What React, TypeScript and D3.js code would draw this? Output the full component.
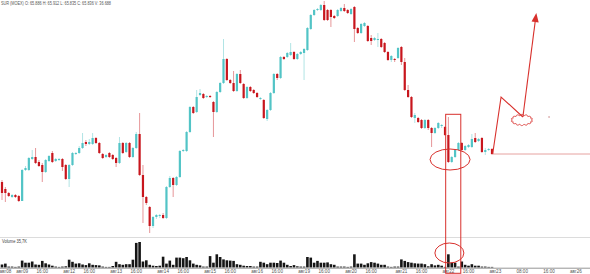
import React from "react";
import * as d3 from "d3";

// ---- data ----
const openP = [64.88,64.81,64.77,64.73,64.75,64.74,64.69,65.00,65.00,65.11,65.13,65.08,65.05,64.98,65.09,65.17,65.09,65.10,65.11,65.05,64.91,65.05,65.16,65.17,65.22,65.28,65.26,65.26,65.32,65.27,65.16,65.13,65.17,65.15,65.12,65.07,65.27,65.18,65.27,65.13,65.22,65.36,64.95,64.73,64.63,64.44,64.53,64.54,64.55,64.52,64.83,64.92,64.85,64.93,65.19,65.19,65.38,65.63,65.58,65.75,65.76,65.73,65.74,65.68,65.58,65.78,65.87,66.11,65.90,65.87,65.79,65.96,65.86,65.72,65.83,65.80,65.77,65.71,65.70,65.51,65.60,65.77,65.96,65.92,66.13,66.13,66.15,66.18,66.11,66.16,66.17,66.20,66.41,66.55,66.60,66.60,66.65,66.60,66.60,66.54,66.54,66.59,66.62,66.60,66.56,66.63,66.42,66.37,66.44,66.44,66.32,66.30,66.30,66.31,66.27,66.18,66.10,66.11,66.12,66.23,66.08,65.80,65.73,65.52,65.52,65.50,65.42,65.50,65.42,65.37,65.42,65.44,65.43,65.35,65.08,65.13,65.20,65.27,65.20,65.23,65.23,65.32,65.29,65.32,65.18,65.20,65.21];
const highP = [64.90,64.83,64.78,64.76,64.76,64.75,65.01,65.04,65.13,65.20,65.22,65.10,65.07,65.11,65.15,65.19,65.12,65.12,65.12,65.06,65.06,65.18,65.18,65.24,65.37,65.30,65.31,65.37,65.33,65.28,65.17,65.16,65.18,65.16,65.13,65.33,65.28,65.28,65.28,65.23,65.38,65.57,65.05,64.74,64.64,64.54,64.56,64.56,64.57,64.84,64.94,64.93,64.94,65.20,65.21,65.39,65.64,65.64,65.80,65.81,65.77,65.75,65.75,65.69,65.79,65.88,66.31,66.12,65.91,65.99,65.97,66.00,65.87,65.84,65.84,65.81,65.78,65.73,65.71,65.61,65.78,65.97,65.97,66.14,66.14,66.18,66.27,66.19,66.17,66.19,66.22,66.43,66.56,66.61,66.62,66.66,66.69,66.61,66.61,66.55,66.61,66.63,66.66,66.61,66.62,66.64,66.43,66.47,66.48,66.45,66.35,66.33,66.37,66.32,66.28,66.19,66.15,66.12,66.23,66.24,66.12,65.85,65.74,65.57,65.53,65.51,65.51,65.51,65.43,65.43,65.48,65.46,65.44,65.53,65.14,65.21,65.28,65.28,65.25,65.26,65.36,65.37,65.32,65.33,65.22,65.22,65.22];
const lowP = [64.70,64.68,64.73,64.72,64.72,64.68,64.69,64.99,64.99,65.10,65.06,65.03,64.88,64.97,65.08,65.07,65.08,65.09,64.99,64.90,64.83,65.04,65.15,65.16,65.21,65.24,65.25,65.25,65.26,65.16,65.11,65.12,65.12,65.10,65.03,65.06,65.16,65.17,65.12,65.12,65.21,64.94,64.47,64.65,64.37,64.42,64.51,64.52,64.51,64.51,64.82,64.73,64.84,64.92,65.18,65.18,65.37,65.56,65.57,65.74,65.71,65.72,65.72,65.33,65.57,65.77,65.86,65.89,65.86,65.78,65.78,65.86,65.71,65.71,65.78,65.76,65.72,65.70,65.51,65.49,65.59,65.76,65.90,65.91,66.10,66.12,66.14,66.10,66.10,66.15,65.90,66.19,66.40,66.54,66.59,66.59,66.49,66.49,66.43,66.51,66.53,66.58,66.58,66.56,66.55,66.28,66.36,66.36,66.43,66.28,66.25,66.29,66.23,66.22,66.17,66.09,66.08,66.08,66.11,66.05,65.79,65.72,65.52,65.47,65.47,65.41,65.41,65.40,65.23,65.36,65.41,65.42,65.34,65.07,65.07,65.12,65.19,65.19,65.19,65.22,65.22,65.27,65.28,65.17,65.15,65.19,65.15];
const closeP = [64.77,64.77,64.74,64.75,64.73,64.69,65.00,65.02,65.12,65.13,65.07,65.04,64.98,65.10,65.14,65.08,65.11,65.11,65.03,64.91,65.05,65.17,65.17,65.22,65.27,65.26,65.28,65.32,65.27,65.17,65.12,65.15,65.13,65.11,65.07,65.27,65.17,65.27,65.13,65.22,65.36,64.95,64.73,64.67,64.44,64.53,64.55,64.55,64.52,64.83,64.92,64.85,64.93,65.19,65.20,65.38,65.63,65.57,65.73,65.77,65.72,65.74,65.73,65.58,65.78,65.87,66.11,65.90,65.87,65.79,65.96,65.87,65.72,65.83,65.79,65.77,65.73,65.72,65.52,65.60,65.77,65.96,65.92,66.13,66.11,66.17,66.18,66.11,66.16,66.18,66.21,66.42,66.55,66.60,66.61,66.65,66.50,66.50,66.53,66.52,66.60,66.62,66.59,66.57,66.61,66.41,66.37,66.46,66.47,66.29,66.29,66.32,66.31,66.23,66.18,66.10,66.14,66.10,66.22,66.08,65.80,65.73,65.53,65.55,65.48,65.42,65.50,65.42,65.37,65.42,65.47,65.45,65.35,65.08,65.13,65.20,65.27,65.20,65.24,65.25,65.31,65.28,65.31,65.18,65.20,65.21,65.16];
const volumeK = [10,13,3,3,2,3,23,16,16,20,10,9,22,14,10,6,3,2,3,4,26,19,13,14,10,8,14,9,8,7,3,2,2,5,19,11,9,11,11,26,82,85,20,24,9,6,5,6,36,13,23,9,33,33,31,35,24,13,9,7,3,3,38,16,44,35,27,24,23,22,11,9,6,5,5,3,3,19,16,11,16,16,15,23,16,9,5,8,4,3,3,35,33,16,22,16,16,17,11,9,3,3,3,2,3,44,13,13,9,14,18,16,13,9,9,3,2,3,3,27,22,18,16,14,13,13,11,4,11,7,9,6,2,44,16,16,3,20,9,6,11,6,6,3,3,2,2];

const tickLabels = ["авг08","авг09","16:00","авг12","16:00","авг13","16:00","авг14","16:00","авг15","16:00","авг16","16:00","авг19","16:00","авг20","16:00","авг21","16:00","авг22","16:00","авг23","08:00","16:00","авг26"];
const tickIndex = [1,6,12,20,26,34,40,48,54,62,68,76,82,90,96,104,110,119,125,133,139,147,155,163,171];

const headerText = "SUR (MOEX) O: 65.886  H: 65.912  L: 65.835  C: 65.836  V: 36.688";
const volumeText = "Volume 35,7K";

// annotation path in (candle index, price) space
const arrowIdx = [146.2, 148.7, 155.2, 159.2];
const arrowPrice = [65.16, 65.73, 65.53, 66.57];
const levelPrice = 65.16;

const W = 590, H = 274;
const UP = "#52c4c6";
const DOWN = "#c8161d";
const ANN = "#d8302c";

export default function App() {
  const x = d3.scaleLinear().domain([0, 146]).range([2, 492]);
  const y = d3.scaleLinear().domain([64.40, 66.70]).range([230, 0]);
  const yv = d3.scaleLinear().domain([0, 90]).range([267.5, 240.5]);
  const bw = 2.2;
  const vw = 2.6;

  const candles = openP.map((o, i) => {
    const c = closeP[i];
    const up = c >= o;
    const col = up ? UP : DOWN;
    const cx = x(i);
    const top = y(Math.max(o, c));
    const bot = y(Math.min(o, c));
    return (
      <g key={i}>
        <rect x={cx - 0.5} y={y(highP[i])} width={1} height={Math.max(1, y(lowP[i]) - y(highP[i]))} fill={col} opacity={0.45} />
        <rect x={cx - bw / 2} y={top} width={bw} height={Math.max(1, bot - top)} fill={col} />
      </g>
    );
  });

  const vols = volumeK.map((v, i) => (
    <rect key={i} x={x(i) - vw / 2} y={yv(v)} width={vw} height={yv(0) - yv(v)} fill="#161616" />
  ));

  // annotation: zigzag with arrow
  const pts: [number, number][] = arrowIdx.map((k, i) => [x(k), y(arrowPrice[i])]);
  const zig = d3.line()(pts.slice(0, 3)) || "";
  const p0 = pts[2], tip = pts[3];
  const dx = tip[0] - p0[0], dy = tip[1] - p0[1];
  const len = Math.hypot(dx, dy);
  const ux = dx / len, uy = dy / len;
  const al = 9, aw = 3.6;
  const bx = tip[0] - ux * al, by = tip[1] - uy * al;
  const lastLine = d3.line()([p0, [bx, by]]) || "";
  const head = `M${tip[0]},${tip[1]}L${bx - uy * aw},${by + ux * aw}L${bx + uy * aw},${by - ux * aw}Z`;

  // scalloped cloud
  const cloudC: [number, number] = [x(154.9), y(65.50)];
  const cloudPts: [number, number][] = d3.range(0, 241).map((k) => {
    const t = (k / 240) * Math.PI * 2;
    const b = 1.3 * Math.abs(Math.sin(7 * t));
    return [cloudC[0] + (9.5 + b) * Math.cos(t), cloudC[1] + (4.3 + b) * Math.sin(t)];
  });
  const cloud = d3.line()(cloudPts) || "";

  const rectX0 = x(132.2), rectX1 = x(136.7);

  return (
    <svg width={W} height={H} style={{ position: "absolute", left: 0, top: 0, background: "#fff", fontFamily: "Liberation Sans, Arial, sans-serif" }}>
      <text x={1} y={5} fontSize={4.5} fill="#555" textLength={110} lengthAdjust="spacingAndGlyphs">{headerText}</text>
      {candles}
      <line x1={0} x2={W} y1={237.5} y2={237.5} stroke="#dcdcdc" strokeWidth={1} />
      <text x={2} y={242.5} fontSize={4.6} fill="#444" textLength={25} lengthAdjust="spacingAndGlyphs">{volumeText}</text>
      {vols}
      <line x1={0} x2={W} y1={268.2} y2={268.2} stroke="#8a8a8a" strokeWidth={0.9} />
      {tickLabels.map((t, i) => (
        <text key={i} x={x(tickIndex[i])} y={272.8} fontSize={4.6} fill="#555" textAnchor="middle">{t}</text>
      ))}
      {/* annotations */}
      <line x1={x(146.2)} x2={W} y1={y(levelPrice)} y2={y(levelPrice)} stroke="#e08c88" strokeWidth={0.8} />
      <rect x={rectX0} y={114.3} width={rectX1 - rectX0} height={159} fill="none" stroke={ANN} strokeWidth={1} />
      <ellipse cx={x(133.5)} cy={159.5} rx={20} ry={10.5} fill="none" stroke={ANN} strokeWidth={1} />
      <ellipse cx={x(133.3)} cy={253} rx={14.5} ry={10} fill="none" stroke={ANN} strokeWidth={1} />
      <path d={zig} fill="none" stroke={ANN} strokeWidth={1.1} />
      <path d={lastLine} fill="none" stroke={ANN} strokeWidth={1.1} />
      <path d={head} fill={ANN} />
      <path d={cloud} fill="none" stroke={ANN} strokeWidth={0.9} />
      <circle cx={x(163)} cy={y(65.53)} r={0.7} fill="#c07070" />
    </svg>
  );
}
